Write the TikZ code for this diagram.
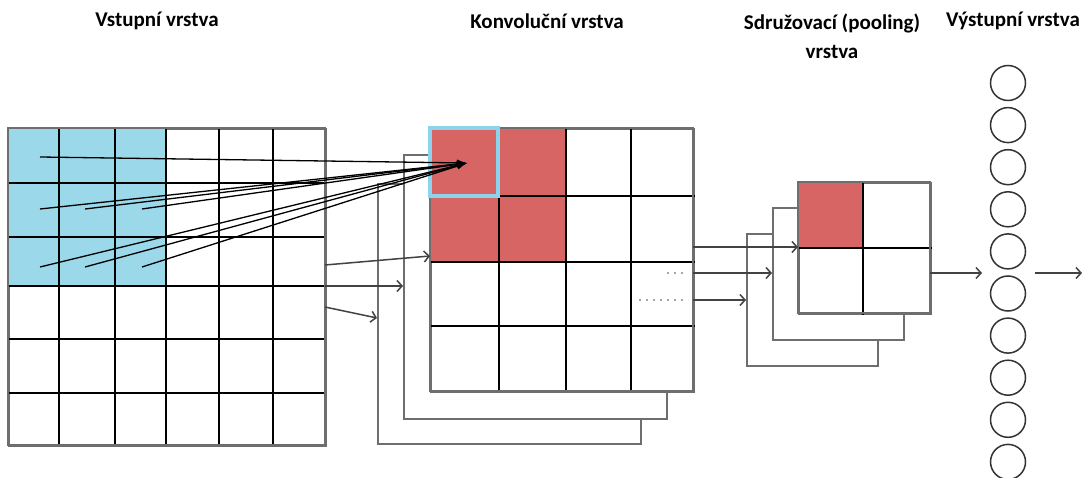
\documentclass[tikz,border=0pt]{standalone}
\usepackage{fontspec}
\setmainfont{Carlito}
\usetikzlibrary{arrows.meta}
\definecolor{inblue}{HTML}{9BD9EA}
\definecolor{kblue}{HTML}{8CD4EC}
\definecolor{cred}{HTML}{D76564}
\definecolor{sheetgray}{HTML}{6E6E6E}
\begin{document}
\begin{tikzpicture}[x=1pt,y=-1pt,
  title/.style={font=\bfseries\fontsize{21}{29}\selectfont, inner sep=0pt},
  gridline/.style={black, line width=1.6pt},
  frame/.style={draw=sheetgray, line width=1.8pt, fill=white, inner sep=0pt, anchor=north west},
  sheetbox/.style={draw=sheetgray, line width=1.8pt, fill=white, inner sep=0pt, anchor=north west},
  fan/.style={black, line width=1.3pt, -{Latex[length=10pt,width=7pt]}},
  conn/.style={sheetgray!60!black, line width=1.5pt, -{Straight Barb[length=5pt,width=11pt]}},
  neuron/.style={circle, draw=black!80, line width=1.5pt, minimum size=35pt, inner sep=0pt}]
\useasboundingbox (0,0) rectangle (1083,478);

% titles
\node[title] (tin) at (157,21) {Vstupní vrstva};
\node[title] (tconv) at (547,21) {Konvoluční vrstva};
\node[title, align=center] (tpool) at (832,36) {Sdružovací (pooling)\\vrstva};
\node[title] (tout) at (1013,21) {Výstupní vrstva};

% input layer
\node[frame, minimum width=317pt, minimum height=317pt] (inp) at (8,128) {};
\fill[inblue] (8,128) rectangle (166,286);
\foreach \x in {59,115,166,219,273} {
  \draw[gridline] (\x,128) -- (\x,445);
}
\foreach \y in {183,237,286,339,393} {
  \draw[gridline] (8,\y) -- (325,\y);
}
\draw[sheetgray, line width=1.8pt] (8,128) rectangle (325,445);

% convolution layer sheets
\node[sheetbox, minimum width=263pt, minimum height=260pt] (conv3) at (377,183) {};
\node[sheetbox, minimum width=263pt, minimum height=264pt] (conv2) at (403,154) {};
\node[sheetbox, minimum width=263pt, minimum height=263pt] (conv1) at (430,128) {};
\fill[cred] (430,128) rectangle (566,262);
\foreach \x in {499,566,631} {
  \draw[gridline] (\x,128) -- (\x,391);
}
\foreach \y in {196,262,326} {
  \draw[gridline] (430,\y) -- (695,\y);
}
\draw[sheetgray, line width=1.8pt] (430,128) rectangle (693,391);
\draw[kblue, line width=4pt] (430,128) rectangle (498,196);
\draw[gray!70, line width=1.5pt, dash pattern=on 2pt off 5pt] (667,273) -- (686,273);
\draw[gray!70, line width=1.5pt, dash pattern=on 2pt off 5pt] (639,300) -- (688,300);

% pooling layer sheets
\node[sheetbox, minimum width=131pt, minimum height=132pt] (pool3) at (746,233) {};
\node[sheetbox, minimum width=131pt, minimum height=132pt] (pool2) at (772,207) {};
\node[sheetbox, minimum width=132pt, minimum height=131pt] (pool1) at (798,182) {};
\fill[cred] (798,182) rectangle (863,248);
\draw[gridline] (863,182) -- (863,315);
\draw[gridline] (798,248) -- (932,248);
\draw[sheetgray, line width=1.8pt] (798,182) rectangle (930,313);

% output neurons
\foreach \i in {0,...,9} {
  \node[neuron] (o\i) at (1008,83+42.1*\i) {};
}

% fan of arrows into the kernel target
\coordinate (k) at (467,163);
\coordinate (a1) at (40,157);
\coordinate (a2) at (40,209);
\coordinate (a3) at (85,209);
\coordinate (a4) at (142,209);
\coordinate (a5) at (40,267);
\coordinate (a6) at (85,267);
\coordinate (a7) at (142,267);
\foreach \s in {a1,a2,a3,a4,a5,a6,a7} {
  \draw[fan] (\s) -- (k);
}

% input -> convolution sheets
\coordinate (b1) at (325,265);
\coordinate (b2) at (325,286);
\coordinate (b3) at (325,307);
\coordinate (c1) at (430,256);
\coordinate (c2) at (403,286);
\coordinate (c3) at (377,318);
\draw[conn] (b1) -- (c1);
\draw[conn] (b2) -- (c2);
\draw[conn] (b3) -- (c3);

% convolution -> pooling sheets
\coordinate (d1) at (693,247);
\coordinate (d2) at (693,273);
\coordinate (d3) at (693,300);
\coordinate (p1) at (798,247);
\coordinate (p2) at (772,273);
\coordinate (p3) at (746,300);
\draw[conn] (d1) -- (p1);
\draw[conn] (d2) -- (p2);
\draw[conn] (d3) -- (p3);

% pooling -> output -> beyond
\coordinate (q1) at (930,273);
\coordinate (q2) at (982,273);
\coordinate (r1) at (1035,273);
\coordinate (r2) at (1082,273);
\draw[conn] (q1) -- (q2);
\draw[conn] (r1) -- (r2);
\end{tikzpicture}
\end{document}
